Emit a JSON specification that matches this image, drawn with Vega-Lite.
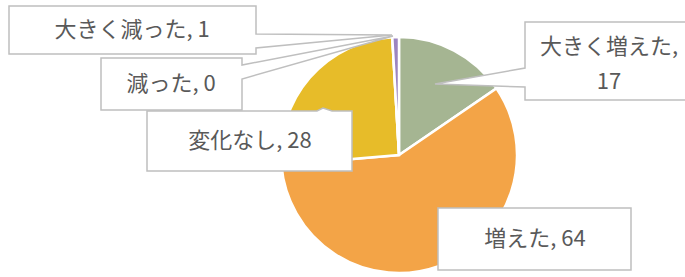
{
  "$schema": "https://vega.github.io/schema/vega-lite/v6.json",
  "width": 572,
  "height": 244,
  "autosize": "none",
  "padding": {"left": 113, "top": 33, "right": 0, "bottom": 0},
  "background": "white",
  "config": {"view": {"stroke": null}, "text": {"font": "Noto Sans CJK JP"}},
  "data": {
    "values": [
      {"category": "大きく増えた", "value": 17, "order": 1, "label": "大きく増えた,\n17"},
      {"category": "増えた", "value": 64, "order": 2, "label": "増えた, 64"},
      {"category": "変化なし", "value": 28, "order": 3, "label": "変化なし, 28"},
      {"category": "減った", "value": 0, "order": 4, "label": "減った, 0"},
      {"category": "大きく減った", "value": 1, "order": 5, "label": "大きく減った, 1"}
    ]
  },
  "layer": [
    {
      "mark": {"type": "arc", "outerRadius": 118, "stroke": "white", "strokeWidth": 2.5},
      "encoding": {
        "theta": {"field": "value", "type": "quantitative", "stack": true},
        "order": {"field": "order", "type": "quantitative"},
        "color": {
          "field": "category",
          "type": "nominal",
          "legend": null,
          "scale": {
            "domain": ["大きく増えた", "増えた", "変化なし", "減った", "大きく減った"],
            "range": ["#A5B592", "#F3A447", "#E7BC29", "#C0504D", "#9C85C0"]
          }
        }
      }
    },
    {
      "mark": {"type": "point", "filled": true, "fill": "white", "stroke": "#BFBFBF", "strokeWidth": 1.5, "opacity": 1, "size": 4},
      "encoding": {
        "shape": {
          "field": "category",
          "type": "nominal",
          "legend": null,
          "scale": {
            "domain": ["大きく増えた", "増えた", "変化なし", "減った", "大きく減った"],
            "range": [
              "M126,-133H300V-55H126V-68L36,-71L126,-87Z",
              "M39,53H232V115H39Z",
              "M-252,-44H-82L-76,-47L-67,-44H-47V16H-252Z",
              "M-298,-97H-157V-90L-6,-119L-157,-76V-45H-298Z",
              "M-390,-149H-143V-121L-7,-120L-143,-107V-101H-390Z"
            ]
          }
        }
      }
    },
    {
      "transform": [{"filter": "datum.category === '大きく増えた'"}],
      "mark": {"type": "text", "fontSize": 22, "color": "#595959", "align": "center", "baseline": "middle", "lineBreak": "\n", "lineHeight": 35, "dx": 210, "dy": -108},
      "encoding": {"text": {"field": "label"}}
    },
    {
      "transform": [{"filter": "datum.category === '増えた'"}],
      "mark": {"type": "text", "fontSize": 22, "color": "#595959", "align": "center", "baseline": "middle", "dx": 136, "dy": 84},
      "encoding": {"text": {"field": "label"}}
    },
    {
      "transform": [{"filter": "datum.category === '変化なし'"}],
      "mark": {"type": "text", "fontSize": 22, "color": "#595959", "align": "center", "baseline": "middle", "dx": -149, "dy": -14},
      "encoding": {"text": {"field": "label"}}
    },
    {
      "transform": [{"filter": "datum.category === '減った'"}],
      "mark": {"type": "text", "fontSize": 22, "color": "#595959", "align": "center", "baseline": "middle", "dx": -228, "dy": -71},
      "encoding": {"text": {"field": "label"}}
    },
    {
      "transform": [{"filter": "datum.category === '大きく減った'"}],
      "mark": {"type": "text", "fontSize": 22, "color": "#595959", "align": "center", "baseline": "middle", "dx": -267, "dy": -125},
      "encoding": {"text": {"field": "label"}}
    }
  ]
}
